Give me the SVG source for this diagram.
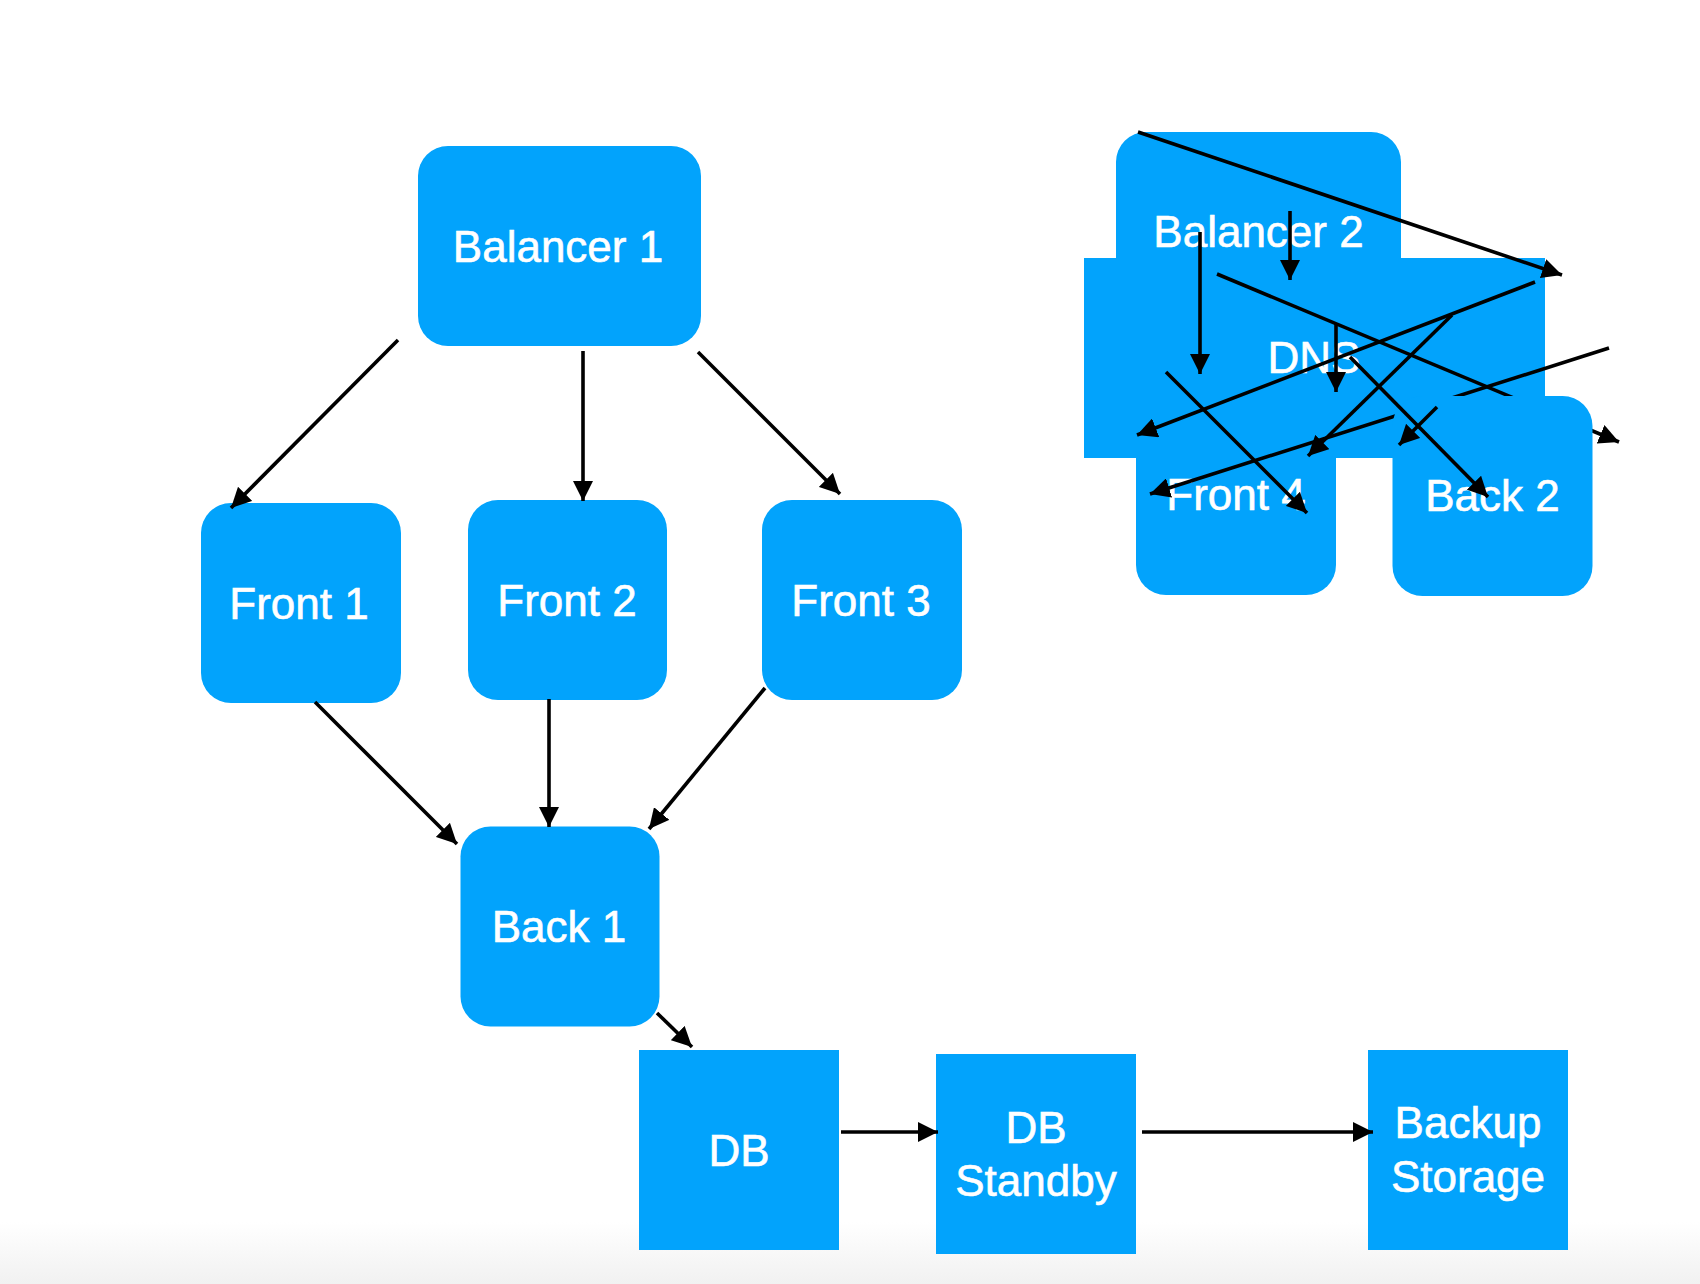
<svg xmlns="http://www.w3.org/2000/svg" width="1700" height="1284" viewBox="0 0 1700 1284">
  <defs>
    <marker id="arrow" viewBox="0 0 20 20" refX="20" refY="10" markerWidth="20" markerHeight="20" markerUnits="userSpaceOnUse" orient="auto">
      <path d="M0,0 L20,10 L0,20 z" fill="#000"/>
    </marker>
    <linearGradient id="bottomFade" x1="0" y1="0" x2="0" y2="1">
      <stop offset="0" stop-color="#ffffff"/>
      <stop offset="1" stop-color="#f1f1f1"/>
    </linearGradient>
    <style>
      .node { fill: #02A3FC; }
      .label { fill: #ffffff; stroke: #ffffff; stroke-width: 0.6px; font-family: "Liberation Sans", Arial, sans-serif; font-size: 44px; text-anchor: middle; }
      .edge { stroke: #000; stroke-width: 3.6; fill: none; marker-end: url(#arrow); }
    </style>
  </defs>

  <rect x="0" y="0" width="1700" height="1284" fill="#ffffff"/>
  <rect x="0" y="1222" width="1700" height="62" fill="url(#bottomFade)"/>

  <g id="balancer1">
    <rect class="node" x="418" y="146" width="283" height="200" rx="30" ry="30"/>
    <text class="label" x="558" y="262">Balancer 1</text>
  </g>
  <g id="front1">
    <rect class="node" x="201" y="503" width="200" height="200" rx="30" ry="30"/>
    <text class="label" x="299" y="619">Front 1</text>
  </g>
  <g id="front2">
    <rect class="node" x="468" y="500" width="199" height="200" rx="30" ry="30"/>
    <text class="label" x="567" y="616">Front 2</text>
  </g>
  <g id="front3">
    <rect class="node" x="762" y="500" width="200" height="200" rx="30" ry="30"/>
    <text class="label" x="861" y="616">Front 3</text>
  </g>
  <g id="back1">
    <rect class="node" x="460.5" y="826.5" width="199" height="200" rx="30" ry="30"/>
    <text class="label" x="559" y="942">Back 1</text>
  </g>
  <g id="db">
    <rect class="node" x="639" y="1050" width="200" height="200"/>
    <text class="label" x="739" y="1166">DB</text>
  </g>
  <g id="dbstandby">
    <rect class="node" x="936" y="1054" width="200" height="200"/>
    <text class="label" x="1036" y="1143">DB</text>
    <text class="label" x="1036" y="1196">Standby</text>
  </g>
  <g id="backupstorage">
    <rect class="node" x="1368" y="1050" width="200" height="200"/>
    <text class="label" x="1468" y="1138">Backup</text>
    <text class="label" x="1468" y="1192">Storage</text>
  </g>

  <g id="balancer2">
    <rect class="node" x="1116" y="132" width="285" height="200" rx="30" ry="30"/>
    <text class="label" x="1258.5" y="247">Balancer 2</text>
  </g>
  <g id="front4">
    <rect class="node" x="1136" y="395" width="200" height="200" rx="30" ry="30"/>
    <text class="label" x="1236" y="510">Front 4</text>
  </g>
  <g id="dns">
    <rect class="node" x="1084" y="258" width="461" height="200"/>
    <text class="label" x="1314" y="373">DNS</text>
  </g>

  <g id="connectors-behind">
    <line class="edge" x1="1217" y1="274" x2="1619" y2="442"/>
    <line class="edge" x1="1609" y1="348" x2="1150" y2="494"/>
  </g>

  <g id="back2">
    <rect class="node" x="1392.5" y="396" width="200" height="200" rx="30" ry="30"/>
    <text class="label" x="1492.5" y="511">Back 2</text>
  </g>

  <g id="connectors">
    <line class="edge" x1="398" y1="340" x2="231" y2="508"/>
    <line class="edge" x1="583" y1="351" x2="583" y2="501"/>
    <line class="edge" x1="698" y1="352" x2="840" y2="494"/>
    <line class="edge" x1="315" y1="702" x2="457" y2="844"/>
    <line class="edge" x1="549" y1="699" x2="549" y2="827"/>
    <line class="edge" x1="765" y1="688" x2="649" y2="829"/>
    <line class="edge" x1="657" y1="1013" x2="692" y2="1047"/>
    <line class="edge" x1="841" y1="1132" x2="938" y2="1132"/>
    <line class="edge" x1="1142" y1="1132" x2="1373" y2="1132"/>

    <line class="edge" x1="1138" y1="132" x2="1562" y2="275"/>
    <line class="edge" x1="1290" y1="211" x2="1290" y2="280"/>
    <line class="edge" x1="1200" y1="232" x2="1200" y2="374"/>
    <line class="edge" x1="1535" y1="282" x2="1137" y2="435"/>
    <line class="edge" x1="1452" y1="315" x2="1308" y2="456"/>
    <line class="edge" x1="1336" y1="324" x2="1336" y2="392"/>
    <line class="edge" x1="1166" y1="372" x2="1307" y2="513"/>
    <line class="edge" x1="1350" y1="357" x2="1488" y2="497"/>
    <line class="edge" x1="1437" y1="407" x2="1399" y2="445"/>
  </g>
</svg>
